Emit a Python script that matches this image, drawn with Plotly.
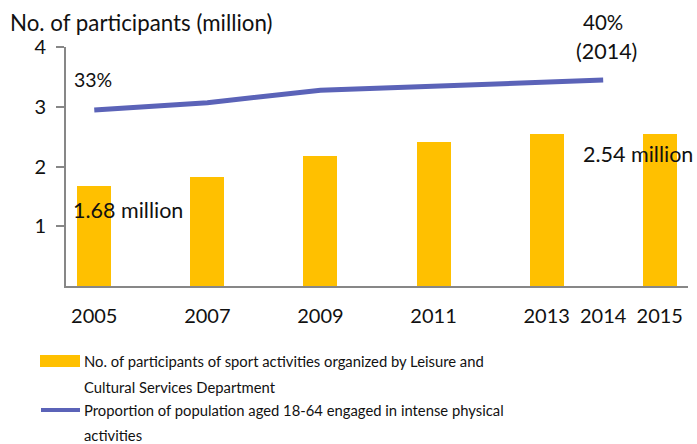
import plotly.graph_objects as go

bar_years = [2005, 2007, 2009, 2011, 2013, 2015]
participants_million = [1.68, 1.82, 2.18, 2.41, 2.55, 2.54]
line_years = [2005, 2007, 2009, 2011, 2013, 2014]
proportion_pct = [33, 34.7, 37.6, 38.5, 39.5, 40]
tick_years = [2005, 2007, 2009, 2011, 2013, 2014, 2015]

BAR_COLOR = "#FFC000"
LINE_COLOR = "#5B63B8"
AXIS_COLOR = "#878787"
FONT = "Lato"
TXT = "#111111"

W, H = 697, 444
L, R, T, B = 66, 9, 47, 158
pw, ph = W - L - R, H - T - B


def px(x):
    return (x - L) / pw


def py(y):
    return (H - B - y) / ph


fig = go.Figure()
fig.add_trace(go.Bar(x=bar_years, y=participants_million, width=0.6,
                     marker=dict(color=BAR_COLOR, line=dict(width=0)),
                     showlegend=False))
fig.add_trace(go.Scatter(x=line_years, y=proportion_pct, yaxis="y2", mode="lines",
                         line=dict(color=LINE_COLOR, width=5, shape="linear"),
                         showlegend=False))

fig.update_layout(
    width=W, height=H,
    margin=dict(l=L, r=R, t=T, b=B, pad=0),
    paper_bgcolor="white", plot_bgcolor="white",
    font=dict(family=FONT, size=20, color=TXT),
    xaxis=dict(range=[2004.5, 2015.5], tickvals=tick_years,
               ticktext=[str(t) for t in tick_years],
               showline=True, linecolor=AXIS_COLOR, linewidth=2,
               ticks="", showgrid=False, zeroline=False,
               ticklabelstandoff=11, tickfont=dict(size=20)),
    yaxis=dict(range=[0, 4], tickvals=[1, 2, 3, 4], showline=True,
               linecolor=AXIS_COLOR, linewidth=2, ticks="outside",
               ticklen=8, tickwidth=2, tickcolor=AXIS_COLOR,
               showgrid=False, zeroline=False, ticklabelstandoff=6,
               tickfont=dict(size=20)),
    yaxis2=dict(range=[-8.09, 47.7], overlaying="y", side="right",
                visible=False, showgrid=False),
    bargap=0,
)

annos = [
    dict(x=px(8), y=py(23), text="No. of participants (million)", xanchor="left", size=22.3),
    dict(x=px(93), y=py(79), text="33%", xanchor="center", size=19.5),
    dict(x=px(603), y=py(22), text="40%", xanchor="center", size=20.5),
    dict(x=px(606), y=py(51), text="(2014)", xanchor="center", size=21.5),
    dict(x=px(127.5), y=py(210), text="1.68 million", xanchor="center", size=21.5),
    dict(x=px(637.5), y=py(154), text="2.54 million", xanchor="center", size=21.5),
]
for a in annos:
    fig.add_annotation(x=a["x"], y=a["y"], xref="paper", yref="paper",
                       text=a["text"], showarrow=False, xanchor=a["xanchor"],
                       yanchor="middle", font=dict(family=FONT, size=a["size"], color=TXT))

LEG_FONT = "Lato"
legend_lines = [
    (361, "No. of participants of sport activities organized by Leisure and"),
    (387, "Cultural Services Department"),
    (410, "Proportion of population aged 18-64 engaged in intense physical"),
    (435, "activities"),
]
for y, t in legend_lines:
    fig.add_annotation(x=px(82), y=py(y), xref="paper", yref="paper", text=t,
                       showarrow=False, xanchor="left", yanchor="middle",
                       font=dict(family=LEG_FONT, size=14.8, color=TXT))

fig.add_shape(type="rect", xref="paper", yref="paper",
              x0=px(40), x1=px(80), y0=py(367), y1=py(355),
              fillcolor=BAR_COLOR, line=dict(width=0))
fig.add_shape(type="line", xref="paper", yref="paper",
              x0=px(41), x1=px(80), y0=py(410), y1=py(410),
              line=dict(color=LINE_COLOR, width=4))

fig.write_html("out.html")
